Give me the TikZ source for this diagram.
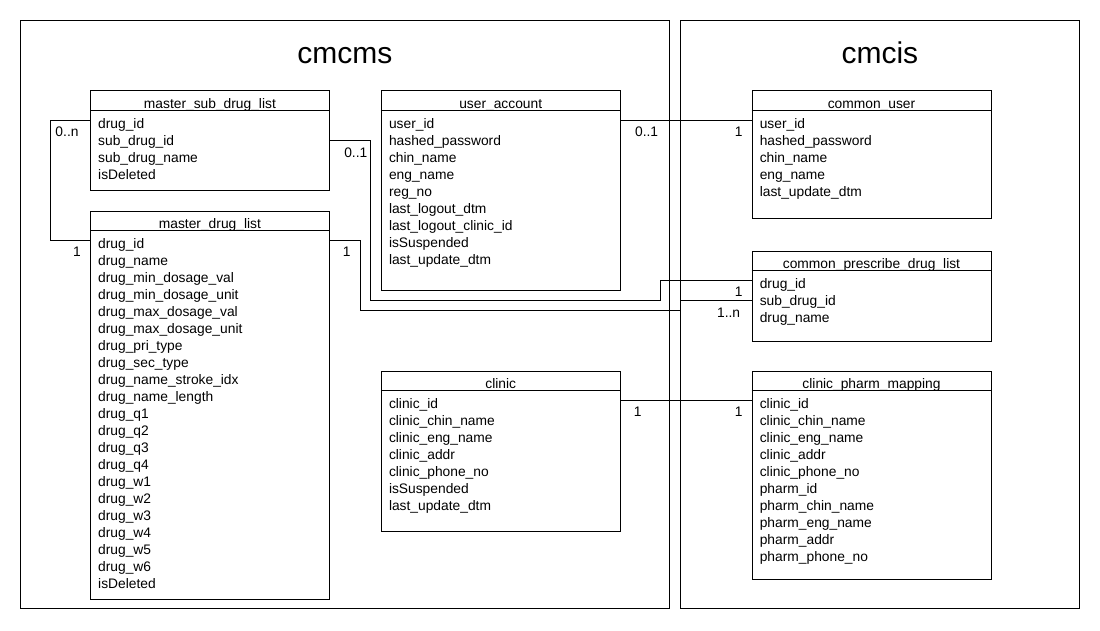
\documentclass[tikz,border=0pt]{standalone}
\usepackage{fontspec}
\setmainfont{Liberation Sans}
\usetikzlibrary{positioning}

% one table: name, placement, height, title, rows
\newcommand{\dbtable}[5]{%
  \node[dbbox, minimum height=#3, #2] (#1) {};
  \node[dbtitle] (#1-title) at ([yshift=-18pt]#1.north) {#4};
  \draw[thin line] ([yshift=-20pt]#1.north west) -- ([yshift=-20pt]#1.north east);
  \foreach \row [count=\i] in {#5}
    \node[dbrow] (#1-\i) at ([xshift=8pt,yshift=-21pt-\i*17pt]#1.north west) {\row};
}

\begin{document}
\begin{tikzpicture}[x=1pt,y=-1pt,
   thin line/.style={line width=0.8pt},
   frame/.style={draw,thin line,inner sep=0pt,anchor=north west},
   schema/.style={font=\fontsize{30}{36}\selectfont,anchor=base,inner sep=0pt},
   dbbox/.style={draw,thin line,minimum width=239pt,inner sep=0pt},
   dbtitle/.style={font=\fontsize{13.8}{16}\selectfont,anchor=base,inner sep=0pt},
   dbrow/.style={font=\fontsize{13.8}{16}\selectfont,anchor=base west,inner sep=0pt},
   card/.style={font=\fontsize{13.8}{16}\selectfont,anchor=base,inner sep=0pt},
   rel/.style={thin line}]
   \useasboundingbox (0,0) rectangle (1100,630);

   % the two schemas
   \node[frame, minimum width=649pt, minimum height=588pt] (cmcms) at (20,20) {};
   \node[frame, minimum width=399pt, minimum height=588pt] (cmcis) at (680,20) {};
   \node[schema] (cmcms-title) at ([yshift=-43pt]cmcms.north) {cmcms};
   \node[schema] (cmcis-title) at ([yshift=-43pt]cmcis.north) {cmcis};

   % cmcms tables
   \dbtable{msdl}{at={(90,90)}, anchor=north west}{100pt}{master\_sub\_drug\_list}
     {drug\_id, sub\_drug\_id, sub\_drug\_name, isDeleted}
   \dbtable{mdl}{below=20pt of msdl}{388pt}{master\_drug\_list}
     {drug\_id, drug\_name, drug\_min\_dosage\_val, drug\_min\_dosage\_unit,
      drug\_max\_dosage\_val, drug\_max\_dosage\_unit, drug\_pri\_type,
      drug\_sec\_type, drug\_name\_stroke\_idx, drug\_name\_length,
      drug\_q1, drug\_q2, drug\_q3, drug\_q4, drug\_w1, drug\_w2, drug\_w3,
      drug\_w4, drug\_w5, drug\_w6, isDeleted}
   \dbtable{ua}{right=51pt of msdl.north east, anchor=north west}{200pt}{user\_account}
     {user\_id, hashed\_password, chin\_name, eng\_name, reg\_no,
      last\_logout\_dtm, last\_logout\_clinic\_id, isSuspended, last\_update\_dtm}
   \dbtable{cl}{below=80pt of ua}{160pt}{clinic}
     {clinic\_id, clinic\_chin\_name, clinic\_eng\_name, clinic\_addr,
      clinic\_phone\_no, isSuspended, last\_update\_dtm}

   % cmcis tables
   \dbtable{cu}{right=131pt of ua.north east, anchor=north west}{128pt}{common\_user}
     {user\_id, hashed\_password, chin\_name, eng\_name, last\_update\_dtm}
   \dbtable{cpdl}{below=32pt of cu}{90pt}{common\_prescribe\_drug\_list}
     {drug\_id, sub\_drug\_id, drug\_name}
   \dbtable{cpm}{right=131pt of cl.north east, anchor=north west}{208pt}{clinic\_pharm\_mapping}
     {clinic\_id, clinic\_chin\_name, clinic\_eng\_name, clinic\_addr,
      clinic\_phone\_no, pharm\_id, pharm\_chin\_name, pharm\_eng\_name,
      pharm\_addr, pharm\_phone\_no}

   % relations
   \coordinate (jog1) at (660,300);
   \coordinate (jog2) at (680,310);
   \draw[rel] ([yshift=-30pt]msdl.north west) -- ++(-40pt,0) |- ([yshift=-30pt]mdl.north west);
   \draw[rel] ([yshift=-50pt]msdl.north east) -- ++(41pt,0) |- (jog1) |- ([yshift=-30pt]cpdl.north west);
   \draw[rel] ([yshift=-30pt]mdl.north east) -- ++(31pt,0) |- (jog2) |- ([yshift=-50pt]cpdl.north west);
   \draw[rel] ([yshift=-30pt]ua.north east) -- ([yshift=-30pt]cu.north west);
   \draw[rel] ([yshift=-30pt]cl.north east) -- ([yshift=-30pt]cpm.north west);

   % cardinalities
   \node[card] (msdl-card-l) at ([xshift=-23pt,yshift=-46pt]msdl.north west) {0..n};
   \node[card] (mdl-card-l) at ([xshift=-13pt,yshift=-46pt]mdl.north west) {1};
   \node[card] (msdl-card-r) at ([xshift=26pt,yshift=-67pt]msdl.north east) {0..1};
   \node[card] (mdl-card-r) at ([xshift=17pt,yshift=-46pt]mdl.north east) {1};
   \node[card] (ua-card) at ([xshift=26pt,yshift=-46pt]ua.north east) {0..1};
   \node[card] (cu-card) at ([xshift=-13pt,yshift=-46pt]cu.north west) {1};
   \node[card] (cpdl-card-1) at ([xshift=-13pt,yshift=-46pt]cpdl.north west) {1};
   \node[card] (cpdl-card-2) at ([xshift=-23pt,yshift=-67pt]cpdl.north west) {1..n};
   \node[card] (cl-card) at ([xshift=17pt,yshift=-46pt]cl.north east) {1};
   \node[card] (cpm-card) at ([xshift=-13pt,yshift=-46pt]cpm.north west) {1};
\end{tikzpicture}
\end{document}
